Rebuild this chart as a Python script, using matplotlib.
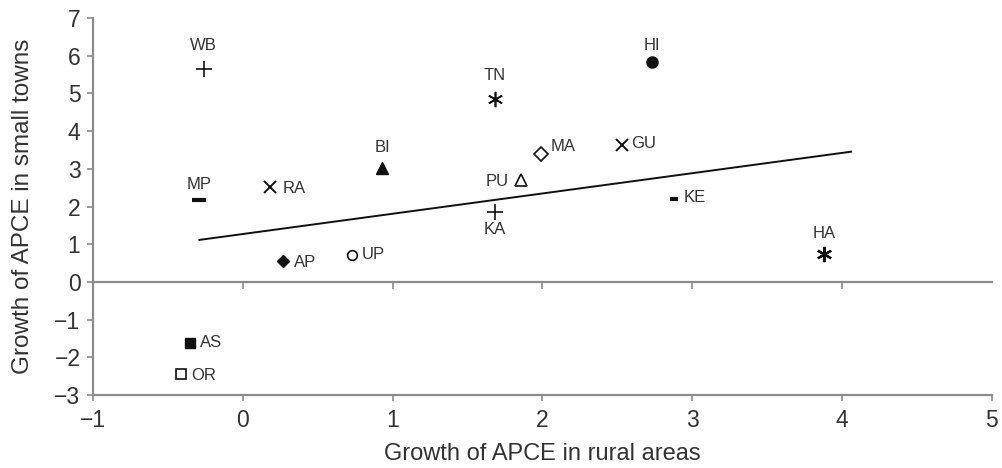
import numpy as np
import matplotlib
matplotlib.use("Agg")
import matplotlib.pyplot as plt

plt.rcParams["font.family"] = ["Liberation Sans", "DejaVu Sans"]

# growth of APCE by state: rural areas vs small towns
states = ["WB", "HI", "TN", "BI", "MA", "GU", "PU", "MP", "RA", "KE",
          "KA", "HA", "AP", "UP", "AS", "OR"]
rural = [-0.26, 2.73, 1.68, 0.93, 1.99, 2.53, 1.86, -0.29, 0.18, 2.88,
         1.68, 3.88, 0.27, 0.73, -0.35, -0.41]
towns = [5.65, 5.84, 4.86, 3.02, 3.40, 3.63, 2.70, 2.18, 2.52, 2.20,
         1.86, 0.74, 0.56, 0.72, -1.62, -2.44]

# fitted trend line
trend_x = [-0.29, 4.06]
trend_slope = 0.538
trend_icept = 1.27

ink = "#111111"
txt = "#333333"
asterisk = (6, 2, 0)
# marker, size, filled, mew
styles = {
    "WB": ("+", 11, True, 1.2), "HI": ("o", 8, True, 1.0),
    "TN": (asterisk, 11, True, 1.2), "BI": ("^", 9, True, 1.0),
    "MA": ("D", 7, False, 1.2), "GU": ("x", 8, True, 1.4),
    "PU": ("^", 9, False, 1.2), "MP": ("_", 10, True, 3.0),
    "RA": ("x", 8, True, 1.4), "KE": ("_", 6, True, 3.0),
    "KA": ("+", 11, True, 1.2), "HA": (asterisk, 11, True, 1.6),
    "AP": ("D", 6, True, 1.0), "UP": ("o", 7, False, 1.2),
    "AS": ("s", 7.5, True, 1.0), "OR": ("s", 7.5, False, 1.2),
}
# label offset (points) and alignment
label_pos = {
    "WB": (0, 17, "center"), "HI": (0, 12, "center"), "TN": (0, 17, "center"),
    "BI": (0, 15, "center"), "MA": (7, 5, "left"), "GU": (7, 1, "left"),
    "PU": (-9, -1, "right"), "MP": (0, 11, "center"), "RA": (9, -1, "left"),
    "KE": (7, 1, "left"), "KA": (0, -13, "center"), "HA": (0, 15, "center"),
    "AP": (8, -1, "left"), "UP": (7, 0, "left"), "AS": (7, 0, "left"),
    "OR": (7, -1, "left"),
}

fig = plt.figure(figsize=(10.03, 4.68), dpi=100)
ax = fig.add_axes([0.0927, 0.156, 0.8963, 0.8055])

for s, x, y in zip(states, rural, towns):
    m, ms, filled, mew = styles[s]
    ax.plot(x, y, linestyle="none", marker=m, markersize=ms,
            markeredgewidth=mew, color=ink,
            markerfacecolor=ink if filled else "white", markeredgecolor=ink,
            zorder=3)
    dx, dy, ha = label_pos[s]
    ax.annotate(s, (x, y), xytext=(dx, dy), textcoords="offset points",
                ha=ha, va="center", fontsize=12, color=txt)

tx = np.array(trend_x)
ax.plot(tx, trend_icept + trend_slope * tx, color=ink, lw=1.4, zorder=2)

ax.set_xlim(-1, 5)
ax.set_ylim(-3, 7)
ax.set_xticks(range(-1, 6))
ax.set_yticks(range(-3, 8))

spine_col = "#8c8c8c"
for side in ["top", "right"]:
    ax.spines[side].set_visible(False)
for side in ["left", "bottom"]:
    ax.spines[side].set_color(spine_col)
    ax.spines[side].set_linewidth(1.6)

ax.tick_params(axis="both", colors=spine_col, labelcolor=txt,
               labelsize=16.5, length=4, width=1.2)
ax.tick_params(axis="y", pad=5)
ax.tick_params(axis="x", pad=6)

# zero line with its own downward ticks
zero_ax = ax.secondary_xaxis(0.3)
zero_ax.set_xticks(range(0, 5))
zero_ax.tick_params(axis="x", direction="out", length=5, width=1.2,
                    colors=spine_col, labelbottom=False, labeltop=False,
                    bottom=True, top=False)
zero_ax.spines["bottom"].set_color(spine_col)
zero_ax.spines["bottom"].set_linewidth(1.6)
zero_ax.spines["top"].set_visible(False)

ax.set_xlabel("Growth of APCE in rural areas", fontsize=17, color=txt,
              labelpad=8)
ax.set_ylabel("Growth of APCE in small towns", fontsize=17.5, color=txt,
              labelpad=15)

fig.savefig("out.png", dpi=100)
